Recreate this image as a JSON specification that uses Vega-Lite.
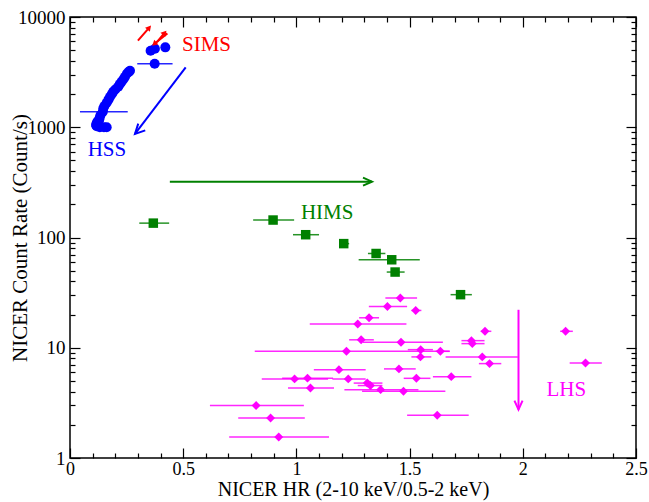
{
  "$schema": "https://vega.github.io/schema/vega-lite/v6.json",
  "width": 566,
  "height": 441,
  "autosize": {"type": "none"},
  "padding": {"left": 70, "top": 17, "right": 13, "bottom": 44},
  "background": "white",
  "config": {
    "view": {"stroke": "black", "strokeWidth": 1.5},
    "font": "Liberation Serif",
    "axis": {"grid": false, "labelFont": "Liberation Serif", "titleFont": "Liberation Serif", "labelColor": "black", "titleColor": "black", "tickColor": "black", "labelFontSize": 19, "titleFontSize": 21, "titleFontWeight": "normal"}
  },
  "datasets": {
    "pts": [
      {"state": "HSS", "hr": 0.132, "rate": 1000},
      {"state": "HSS", "hr": 0.150, "rate": 1000},
      {"state": "HSS", "hr": 0.162, "rate": 1000},
      {"state": "HSS", "hr": 0.118, "rate": 1020},
      {"state": "HSS", "hr": 0.115, "rate": 1050},
      {"state": "HSS", "hr": 0.118, "rate": 1090},
      {"state": "HSS", "hr": 0.122, "rate": 1130},
      {"state": "HSS", "hr": 0.129, "rate": 1165},
      {"state": "HSS", "hr": 0.131, "rate": 1220},
      {"state": "HSS", "hr": 0.135, "rate": 1290},
      {"state": "HSS", "hr": 0.145, "rate": 1384, "lo": 0.044, "hi": 0.255},
      {"state": "HSS", "hr": 0.147, "rate": 1480},
      {"state": "HSS", "hr": 0.152, "rate": 1560},
      {"state": "HSS", "hr": 0.162, "rate": 1670},
      {"state": "HSS", "hr": 0.170, "rate": 1780},
      {"state": "HSS", "hr": 0.177, "rate": 1890},
      {"state": "HSS", "hr": 0.185, "rate": 2000},
      {"state": "HSS", "hr": 0.191, "rate": 2100},
      {"state": "HSS", "hr": 0.200, "rate": 2200},
      {"state": "HSS", "hr": 0.213, "rate": 2330},
      {"state": "HSS", "hr": 0.220, "rate": 2460},
      {"state": "HSS", "hr": 0.228, "rate": 2590},
      {"state": "HSS", "hr": 0.236, "rate": 2720},
      {"state": "HSS", "hr": 0.243, "rate": 2870},
      {"state": "HSS", "hr": 0.252, "rate": 3070},
      {"state": "HSS", "hr": 0.260, "rate": 3180},
      {"state": "HSS", "hr": 0.265, "rate": 3260},
      {"state": "HSS", "hr": 0.374, "rate": 3767, "lo": 0.297, "hi": 0.453},
      {"state": "HSS", "hr": 0.356, "rate": 4943},
      {"state": "HSS", "hr": 0.375, "rate": 5152},
      {"state": "HSS", "hr": 0.421, "rate": 5305},
      {"state": "HIMS", "hr": 0.368, "rate": 135, "lo": 0.306, "hi": 0.438},
      {"state": "HIMS", "hr": 0.897, "rate": 144, "lo": 0.809, "hi": 0.990},
      {"state": "HIMS", "hr": 1.041, "rate": 106, "lo": 0.985, "hi": 1.100},
      {"state": "HIMS", "hr": 1.209, "rate": 88, "lo": 1.191, "hi": 1.233},
      {"state": "HIMS", "hr": 1.352, "rate": 71.6, "lo": 1.316, "hi": 1.393},
      {"state": "HIMS", "hr": 1.421, "rate": 62.8, "lo": 1.275, "hi": 1.545},
      {"state": "HIMS", "hr": 1.436, "rate": 48.6, "lo": 1.399, "hi": 1.478},
      {"state": "HIMS", "hr": 1.725, "rate": 30.3, "lo": 1.681, "hi": 1.775},
      {"state": "LHS", "hr": 1.459, "rate": 28.3, "lo": 1.393, "hi": 1.533},
      {"state": "LHS", "hr": 1.402, "rate": 23.7, "lo": 1.320, "hi": 1.489},
      {"state": "LHS", "hr": 1.527, "rate": 21.8, "lo": 1.508, "hi": 1.552},
      {"state": "LHS", "hr": 1.321, "rate": 18.7, "lo": 1.277, "hi": 1.365},
      {"state": "LHS", "hr": 1.271, "rate": 16.4, "lo": 1.059, "hi": 1.486},
      {"state": "LHS", "hr": 1.286, "rate": 11.8, "lo": 1.233, "hi": 1.342},
      {"state": "LHS", "hr": 1.462, "rate": 11.2, "lo": 1.294, "hi": 1.647},
      {"state": "LHS", "hr": 1.221, "rate": 9.28, "lo": 0.816, "hi": 1.677},
      {"state": "LHS", "hr": 1.549, "rate": 9.61, "lo": 1.492, "hi": 1.603},
      {"state": "LHS", "hr": 1.636, "rate": 9.28, "lo": 1.615, "hi": 1.677},
      {"state": "LHS", "hr": 1.548, "rate": 8.26, "lo": 1.508, "hi": 1.596},
      {"state": "LHS", "hr": 1.821, "rate": 8.26, "lo": 1.659, "hi": 1.978},
      {"state": "LHS", "hr": 1.853, "rate": 7.18, "lo": 1.806, "hi": 1.905},
      {"state": "LHS", "hr": 1.833, "rate": 14.1, "lo": 1.814, "hi": 1.861},
      {"state": "LHS", "hr": 1.773, "rate": 11.6, "lo": 1.729, "hi": 1.831},
      {"state": "LHS", "hr": 1.777, "rate": 10.9, "lo": 1.729, "hi": 1.831},
      {"state": "LHS", "hr": 2.189, "rate": 14.1, "lo": 2.165, "hi": 2.221},
      {"state": "LHS", "hr": 2.277, "rate": 7.28, "lo": 2.207, "hi": 2.349},
      {"state": "LHS", "hr": 1.684, "rate": 5.47, "lo": 1.603, "hi": 1.773},
      {"state": "LHS", "hr": 1.530, "rate": 5.28, "lo": 1.474, "hi": 1.592},
      {"state": "LHS", "hr": 1.473, "rate": 4.03, "lo": 1.290, "hi": 1.658},
      {"state": "LHS", "hr": 1.622, "rate": 2.44, "lo": 1.489, "hi": 1.761},
      {"state": "LHS", "hr": 1.453, "rate": 6.43, "lo": 1.387, "hi": 1.527},
      {"state": "LHS", "hr": 1.188, "rate": 6.33, "lo": 1.077, "hi": 1.306},
      {"state": "LHS", "hr": 0.992, "rate": 5.22, "lo": 0.847, "hi": 1.140},
      {"state": "LHS", "hr": 1.049, "rate": 5.30, "lo": 0.937, "hi": 1.162},
      {"state": "LHS", "hr": 1.229, "rate": 5.22, "lo": 1.159, "hi": 1.306},
      {"state": "LHS", "hr": 1.313, "rate": 4.78, "lo": 1.253, "hi": 1.380},
      {"state": "LHS", "hr": 1.327, "rate": 4.54, "lo": 1.271, "hi": 1.380},
      {"state": "LHS", "hr": 1.062, "rate": 4.32, "lo": 0.963, "hi": 1.166},
      {"state": "LHS", "hr": 1.372, "rate": 4.17, "lo": 1.212, "hi": 1.539},
      {"state": "LHS", "hr": 0.822, "rate": 2.99, "lo": 0.618, "hi": 1.033},
      {"state": "LHS", "hr": 0.886, "rate": 2.31, "lo": 0.743, "hi": 1.037},
      {"state": "LHS", "hr": 0.922, "rate": 1.55, "lo": 0.703, "hi": 1.144}
    ],
    "arrows": [
      {"grp": "SIMS", "dir": "ne", "x1": 0.300, "y1": 6100, "x2": 0.350, "y2": 8000},
      {"grp": "SIMS", "dir": "sw", "x1": 0.430, "y1": 7100, "x2": 0.372, "y2": 5700},
      {"grp": "SIMS", "dir": "ne", "x1": 0.384, "y1": 5925, "x2": 0.418, "y2": 7200},
      {"grp": "HSS", "dir": "sw", "x1": 0.511, "y1": 3494, "x2": 0.287, "y2": 869},
      {"grp": "HIMS", "dir": "e", "x1": 0.441, "y1": 321, "x2": 1.334, "y2": 321},
      {"grp": "LHS", "dir": "s", "x1": 1.981, "y1": 22.1, "x2": 1.981, "y2": 2.75}
    ],
    "labels": [
      {"text": "SIMS", "grp": "SIMS", "x": 0.603, "y": 5560},
      {"text": "HSS", "grp": "HSS", "x": 0.163, "y": 623},
      {"text": "HIMS", "grp": "HIMS", "x": 1.136, "y": 167},
      {"text": "LHS", "grp": "LHS", "x": 2.192, "y": 4.18}
    ]
  },
  "layer": [
    {
      "data": {"name": "pts"},
      "transform": [{"filter": "isValid(datum.lo)"}],
      "mark": {"type": "rule", "strokeWidth": 1.5, "opacity": 0.85},
      "encoding": {
        "x": {"field": "lo", "type": "quantitative", "scale": {"domain": [0, 2.5], "nice": false, "zero": false},
          "axis": {"orient": "bottom", "values": [0, 0.5, 1, 1.5, 2, 2.5], "format": "~g", "ticks": false, "domain": false, "labelPadding": 2, "labelFontSize": 18, "labelFlush": false, "title": "NICER HR (2-10 keV/0.5-2 keV)", "titleFontSize": 20, "titlePadding": 1}},
        "x2": {"field": "hi"},
        "y": {"field": "rate", "type": "quantitative", "scale": {"type": "log", "domain": [1, 10000], "nice": false},
          "axis": {"orient": "left", "values": [1, 10, 100, 1000, 10000], "format": "d", "ticks": false, "domain": false, "labelPadding": 5, "title": "NICER Count Rate (Count/s)", "titlePadding": -13}},
        "color": {"field": "state", "type": "nominal", "scale": {"domain": ["HSS", "HIMS", "LHS", "SIMS"], "range": ["#0000ff", "#008000", "#ff00ff", "#ff0000"]}, "legend": null}
      }
    },
    {
      "data": {"name": "pts"},
      "mark": {"type": "point", "filled": true, "opacity": 1},
      "encoding": {
        "x": {"field": "hr", "type": "quantitative",
          "axis": {"orient": "bottom", "values": [0, 0.1, 0.2, 0.3, 0.4, 0.5, 0.6, 0.7, 0.8, 0.9, 1, 1.1, 1.2, 1.3, 1.4, 1.5, 1.6, 1.7, 1.8, 1.9, 2, 2.1, 2.2, 2.3, 2.4, 2.5], "labels": false, "domain": false, "title": null, "tickWidth": 1.2,
            "tickSize": {"condition": {"test": "abs(datum.value*2 - round(datum.value*2)) < 0.001", "value": -10}, "value": -5}}},
        "y": {"field": "rate", "type": "quantitative",
          "axis": {"orient": "left", "values": [1, 2, 3, 4, 5, 6, 7, 8, 9, 10, 20, 30, 40, 50, 60, 70, 80, 90, 100, 200, 300, 400, 500, 600, 700, 800, 900, 1000, 2000, 3000, 4000, 5000, 6000, 7000, 8000, 9000, 10000], "labels": false, "domain": false, "title": null, "tickWidth": 1.2,
            "tickSize": {"condition": {"test": "abs(log(datum.value)/LN10 - round(log(datum.value)/LN10)) < 0.001", "value": -10}, "value": -5}}},
        "color": {"field": "state", "type": "nominal", "legend": null},
        "shape": {"field": "state", "type": "nominal", "scale": {"domain": ["HSS", "HIMS", "LHS"], "range": ["circle", "square", "diamond"]}, "legend": null},
        "size": {"field": "state", "type": "nominal", "scale": {"domain": ["HSS", "HIMS", "LHS"], "range": [100, 80, 130]}, "legend": null}
      }
    },
    {
      "data": {"name": "arrows"},
      "mark": {"type": "rule", "strokeWidth": 2},
      "encoding": {
        "x": {"field": "x1", "type": "quantitative",
          "axis": {"orient": "top", "values": [0, 0.1, 0.2, 0.3, 0.4, 0.5, 0.6, 0.7, 0.8, 0.9, 1, 1.1, 1.2, 1.3, 1.4, 1.5, 1.6, 1.7, 1.8, 1.9, 2, 2.1, 2.2, 2.3, 2.4, 2.5], "labels": false, "domain": false, "title": null, "tickWidth": 1.2,
            "tickSize": {"condition": {"test": "abs(datum.value*2 - round(datum.value*2)) < 0.001", "value": -10}, "value": -5}}},
        "x2": {"field": "x2"},
        "y": {"field": "y1", "type": "quantitative",
          "axis": {"orient": "right", "values": [1, 2, 3, 4, 5, 6, 7, 8, 9, 10, 20, 30, 40, 50, 60, 70, 80, 90, 100, 200, 300, 400, 500, 600, 700, 800, 900, 1000, 2000, 3000, 4000, 5000, 6000, 7000, 8000, 9000, 10000], "labels": false, "domain": false, "title": null, "tickWidth": 1.2,
            "tickSize": {"condition": {"test": "abs(log(datum.value)/LN10 - round(log(datum.value)/LN10)) < 0.001", "value": -10}, "value": -5}}},
        "y2": {"field": "y2"},
        "color": {"field": "grp", "type": "nominal", "legend": null}
      }
    },
    {
      "data": {"name": "arrows"},
      "transform": [{"filter": "datum.dir === 'ne'"}],
      "mark": {"type": "point", "shape": "triangle-up", "filled": true, "angle": 40, "size": 40, "opacity": 1},
      "encoding": {
        "x": {"field": "x2", "type": "quantitative", "axis": null},
        "y": {"field": "y2", "type": "quantitative", "axis": null},
        "color": {"field": "grp", "type": "nominal", "legend": null}
      }
    },
    {
      "data": {"name": "arrows"},
      "transform": [{"filter": "datum.dir === 'sw' && datum.grp === 'SIMS'"}],
      "mark": {"type": "point", "shape": "triangle-up", "filled": true, "angle": 230, "size": 40, "opacity": 1},
      "encoding": {
        "x": {"field": "x2", "type": "quantitative", "axis": null},
        "y": {"field": "y2", "type": "quantitative", "axis": null},
        "color": {"field": "grp", "type": "nominal", "legend": null}
      }
    },
    {
      "data": {"name": "arrows"},
      "transform": [{"filter": "datum.dir === 'sw' && datum.grp === 'HSS'"}],
      "mark": {"type": "point", "shape": "M -0.5 1 L 0 0 L 0.5 1", "filled": false, "strokeWidth": 2, "angle": 224, "size": 380, "opacity": 1},
      "encoding": {
        "x": {"field": "x2", "type": "quantitative", "axis": null},
        "y": {"field": "y2", "type": "quantitative", "axis": null},
        "color": {"field": "grp", "type": "nominal", "legend": null}
      }
    },
    {
      "data": {"name": "arrows"},
      "transform": [{"filter": "datum.dir === 'e'"}],
      "mark": {"type": "point", "shape": "M -0.45 1 L 0 0 L 0.45 1", "filled": false, "strokeWidth": 2, "angle": 90, "size": 324, "opacity": 1},
      "encoding": {
        "x": {"field": "x2", "type": "quantitative", "axis": null},
        "y": {"field": "y2", "type": "quantitative", "axis": null},
        "color": {"field": "grp", "type": "nominal", "legend": null}
      }
    },
    {
      "data": {"name": "arrows"},
      "transform": [{"filter": "datum.dir === 's'"}],
      "mark": {"type": "point", "shape": "M -0.45 1 L 0 0 L 0.45 1", "filled": false, "strokeWidth": 2, "angle": 180, "size": 324, "opacity": 1},
      "encoding": {
        "x": {"field": "x2", "type": "quantitative", "axis": null},
        "y": {"field": "y2", "type": "quantitative", "axis": null},
        "color": {"field": "grp", "type": "nominal", "legend": null}
      }
    },
    {
      "data": {"name": "labels"},
      "mark": {"type": "text", "font": "Liberation Serif", "fontSize": 21, "align": "center", "baseline": "middle"},
      "encoding": {
        "x": {"field": "x", "type": "quantitative", "axis": null},
        "y": {"field": "y", "type": "quantitative", "axis": null},
        "text": {"field": "text"},
        "color": {"field": "grp", "type": "nominal", "legend": null}
      }
    }
  ],
  "resolve": {"axis": {"x": "independent", "y": "independent"}}
}
